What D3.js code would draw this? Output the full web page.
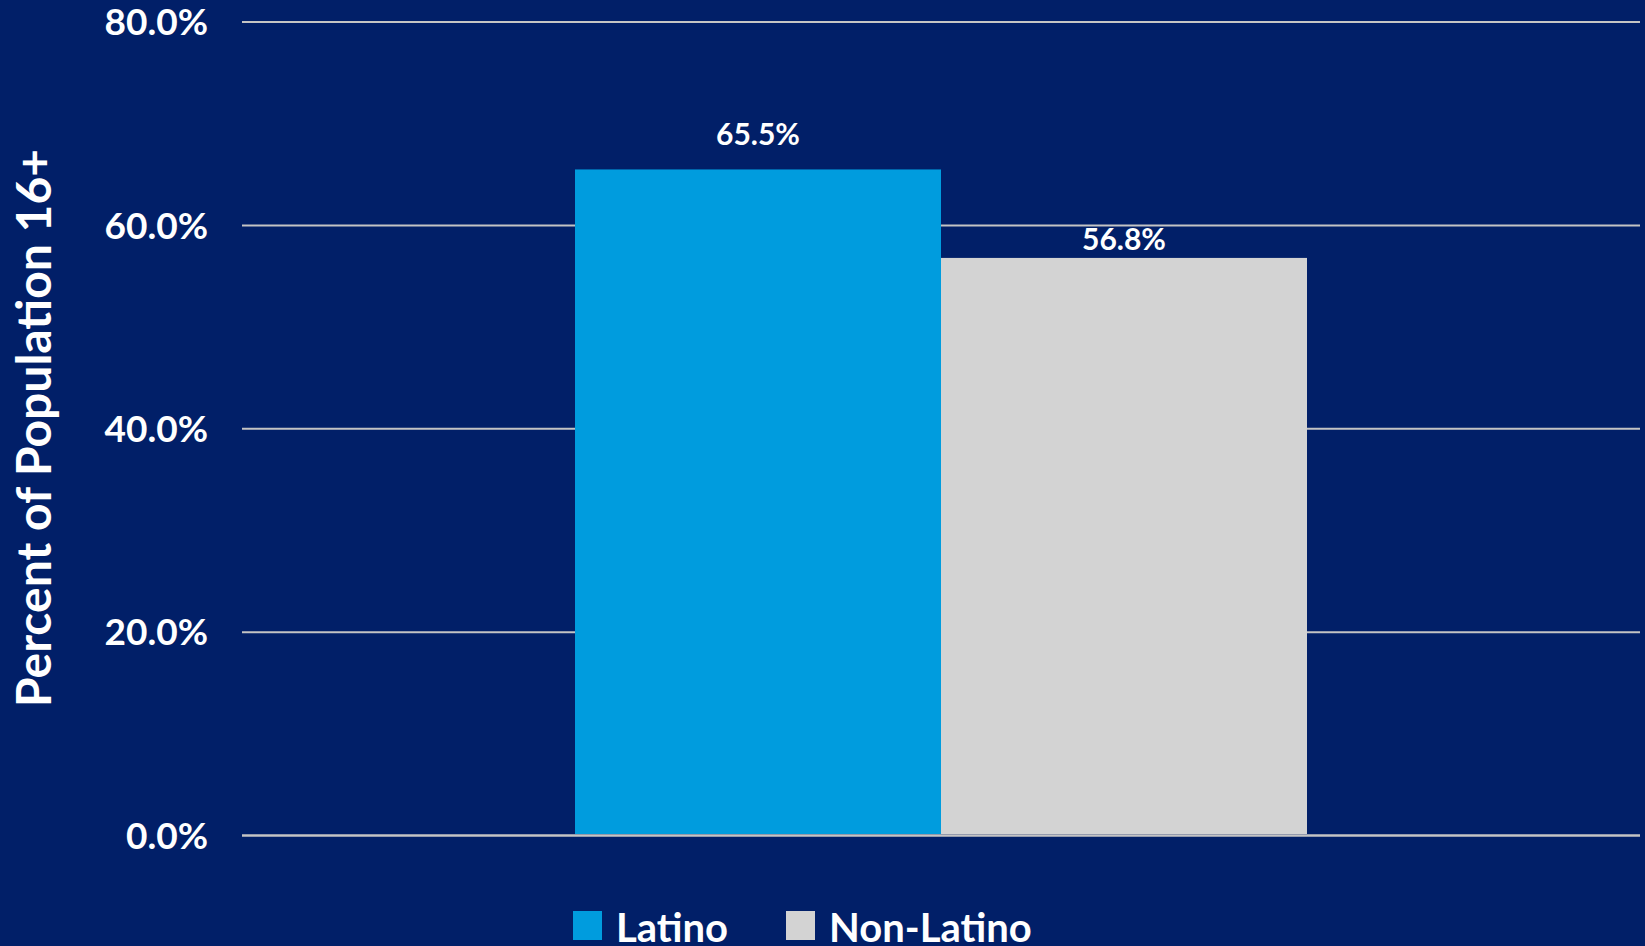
<!DOCTYPE html>
<html>
<head>
<meta charset="utf-8">
<script src="https://cdn.jsdelivr.net/npm/d3@7"></script>
<style>
  html, body { margin: 0; padding: 0; background: #011F68; }
  svg { display: block; }
  text { font-family: Lato, "Open Sans", sans-serif; font-weight: 700; fill: #ffffff; }
</style>
</head>
<body>
<svg id="chart" width="1645" height="946"></svg>
<script>
// ---- data ----
const series = ["Latino", "Non-Latino"];
const values = [65.5, 56.8];
const valueLabels = ["65.5%", "56.8%"];
const yTicks = [0, 20, 40, 60, 80];
const yTickLabels = ["0.0%", "20.0%", "40.0%", "60.0%", "80.0%"];
const colors = ["#009CDE", "#D3D3D3"];
const yTitle = "Percent of Population 16+";
// layout (label offsets above bar tops, as placed in the original)
const labelGap = [24, 8];

const W = 1645, H = 946;
const svg = d3.select("#chart");
svg.append("rect").attr("width", W).attr("height", H).attr("fill", "#011F68");

const plot = { left: 242, right: 1640, top: 22, bottom: 835.5 };

const y = d3.scaleLinear().domain([0, 80]).range([plot.bottom, plot.top]);
const groupW = 1307 - 575;
const x = d3.scaleBand().domain(series)
  .range([ (plot.left + plot.right) / 2 - groupW / 2, (plot.left + plot.right) / 2 + groupW / 2 ])
  .padding(0);

// gridlines
svg.append("g").selectAll("line").data(yTicks).join("line")
  .attr("x1", plot.left).attr("x2", plot.right)
  .attr("y1", d => y(d)).attr("y2", d => y(d))
  .attr("stroke", "#C4C4C4").attr("stroke-width", 2);

// bars
svg.append("g").selectAll("rect").data(series).join("rect")
  .attr("x", d => x(d))
  .attr("width", x.bandwidth())
  .attr("y", (d, i) => y(values[i]))
  .attr("height", (d, i) => y(0) - 1.5 - y(values[i]))
  .attr("fill", (d, i) => colors[i]);

// redraw baseline gridline over bars
svg.append("line").attr("x1", plot.left).attr("x2", plot.right)
  .attr("y1", y(0)).attr("y2", y(0)).attr("stroke", "#C4C4C4").attr("stroke-width", 2);

// value labels
svg.append("g").selectAll("text").data(series).join("text")
  .attr("x", d => x(d) + x.bandwidth() / 2)
  .attr("y", (d, i) => y(values[i]) - labelGap[i])
  .attr("text-anchor", "middle")
  .style("font-size", "30px")
  .text((d, i) => valueLabels[i]);

// y tick labels
svg.append("g").selectAll("text").data(yTicks).join("text")
  .attr("x", 208)
  .attr("y", d => y(d))
  .attr("dy", "0.36em")
  .attr("text-anchor", "end")
  .style("font-size", "37px")
  .text((d, i) => yTickLabels[i]);

// y title
svg.append("text")
  .attr("transform", "translate(51,428) rotate(-90)")
  .attr("text-anchor", "middle")
  .style("font-size", "48px")
  .text(yTitle);

// legend
const legendX = [573, 786];
const lg = svg.append("g").selectAll("g").data(series).join("g")
  .attr("transform", (d, i) => `translate(${legendX[i]},911)`);
lg.append("rect").attr("width", 29).attr("height", 29).attr("fill", (d, i) => colors[i]);
lg.append("text").attr("x", 43).attr("y", 31).style("font-size", "40px").text(d => d);
</script>
</body>
</html>
